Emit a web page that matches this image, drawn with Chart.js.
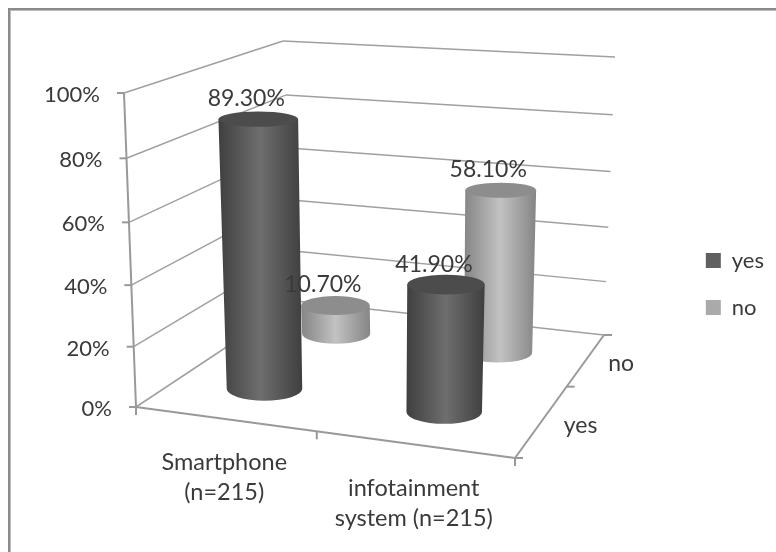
<!DOCTYPE html>
<html>
<head>
<meta charset="utf-8">
<style>html,body{margin:0;padding:0;background:#fff}canvas{display:block}</style>
<script src="https://cdn.jsdelivr.net/npm/chart.js@4"></script>
</head>
<body>
<canvas id="chart" width="776" height="552"></canvas>
<script>
// Share of respondents per device, one cylinder row per answer.
const categories = [['Smartphone', '(n=215)'], ['infotainment', 'system (n=215)']];
const seriesNames = ['yes', 'no'];
const yesValues = [89.3, 41.9];
const noValues = [10.7, 58.1];
const yTicks = [0, 20, 40, 60, 80, 100];

const FONT = 'Lato, sans-serif';
const TEXT = '#3a3a3a';
const LINE = '#a0a0a0';
const AXIS = '#999999';

// Corners of the 3D box: floor and the plane at 100%.
const box = {
  floor: { fl: [136, 407], fr: [515, 458], bl: [296, 301], br: [604, 335] },
  top:   { fl: [124, 93],  fr: [525, 125], bl: [283, 41],  br: [615, 57] }
};
// Perspective pulls the middle of each floor edge away from its arithmetic centre.
const floorMidU = 0.477, floorMidW = 0.58;
const shiftU = -0.015, shiftW = 0.025;

const bilerp = (q, u, w) => [0, 1].map(i =>
  (1 - w) * ((1 - u) * q.fl[i] + u * q.fr[i]) + w * ((1 - u) * q.bl[i] + u * q.br[i]));
// u along categories, w along depth, v up the value axis (all 0..1).
function project(u, w, v) {
  const t = v * (1 + 0.05 * (v - 1));
  const a = bilerp(box.floor, u, w), b = bilerp(box.top, u, w);
  return [a[0] + (b[0] - a[0]) * t, a[1] + (b[1] - a[1]) * t];
}

const skins = {
  yes: { top: '#4c4c4c', edge: '#3f3f3f', mid: '#6e6e6e' },
  no:  { top: '#8d8d8d', edge: '#858585', mid: '#c2c2c2' }
};
const radiusU = 0.105;

function segment(ctx, a, b, color, width) {
  ctx.strokeStyle = color;
  ctx.lineWidth = width;
  ctx.beginPath();
  ctx.moveTo(a[0], a[1]);
  ctx.lineTo(b[0], b[1]);
  ctx.stroke();
}

function cylinder(ctx, u, w, v, skin) {
  const base = project(u, w, 0), head = project(u, w, v);
  const rxOf = vv => (project(u + radiusU, w, vv)[0] - project(u - radiusU, w, vv)[0]) / 2;
  const rb = rxOf(0), rt = rxOf(v);
  const ryBase = 13 - 4 * w;
  const ryBottom = ryBase, ryTop = ryBase * (1 - 0.4 * v);
  const left = Math.min(base[0] - rb, head[0] - rt), right = Math.max(base[0] + rb, head[0] + rt);
  const g = ctx.createLinearGradient(left, 0, right, 0);
  g.addColorStop(0, skin.edge);
  g.addColorStop(0.5, skin.mid);
  g.addColorStop(1, skin.edge);
  ctx.fillStyle = g;
  ctx.beginPath();
  ctx.moveTo(head[0] - rt, head[1]);
  ctx.lineTo(base[0] - rb, base[1]);
  ctx.ellipse(base[0], base[1], rb, ryBottom, 0, Math.PI, 0, true);
  ctx.lineTo(head[0] + rt, head[1]);
  ctx.closePath();
  ctx.fill();
  ctx.fillStyle = skin.top;
  ctx.beginPath();
  ctx.ellipse(head[0], head[1], rt, ryTop, 0, 0, Math.PI * 2);
  ctx.fill();
}

const box3d = {
  id: 'box3d',
  beforeDatasetsDraw(chart) {
    const { ctx, scales: { x, y, depth } } = chart;
    const uOf = i => (x.getPixelForValue(i) - x.left) / x.width;
    const wOf = i => (depth.getPixelForValue(i) - depth.top) / depth.height;
    const vOf = val => (y.bottom - y.getPixelForValue(val)) / y.height;

    ctx.save();
    // Page frame: top and left edges only.
    ctx.fillStyle = '#8a8a8a';
    ctx.fillRect(8, 8, 768, 2);
    ctx.fillRect(8, 8, 2, 544);
    ctx.fillStyle = '#bdbdbd';
    ctx.fillRect(10, 10, 766, 1);
    ctx.fillRect(10, 10, 1, 542);

    // Walls
    ctx.lineCap = 'butt';
    yTicks.forEach(t => {
      const v = vOf(t);
      segment(ctx, project(0, 0, v), project(0, 1, v), LINE, 1.5);
      segment(ctx, project(0, 1, v), project(1, 1, v), LINE, 1.5);
    });

    // Axes and their tick marks
    segment(ctx, project(0, 0, 0), project(0, 0, 1), AXIS, 2);
    segment(ctx, project(0, 0, 0), project(1, 0, 0), AXIS, 2);
    segment(ctx, project(1, 0, 0), project(1, 1, 0), AXIS, 2);
    yTicks.forEach(t => {
      const p = project(0, 0, vOf(t));
      segment(ctx, [p[0] - 7, p[1]], [p[0], p[1]], AXIS, 2);
    });
    [0, floorMidU, 1].forEach(u => {
      const p = project(u, 0, 0);
      segment(ctx, p, [p[0], p[1] + 8], AXIS, 2);
    });
    [0, floorMidW, 1].forEach(w => {
      const p = project(1, w, 0);
      segment(ctx, p, [p[0] + 8, p[1]], AXIS, 2);
    });

    // Cylinders, far row first so the near row overlaps it.
    const drawOrder = [...chart.data.datasets.keys()].reverse();
    drawOrder.forEach(d => {
      const ds = chart.data.datasets[d];
      ds.data.forEach((val, i) =>
        cylinder(ctx, uOf(i) + shiftU, wOf(d) + shiftW, vOf(val), skins[ds.label]));
    });

    // Text
    ctx.fillStyle = TEXT;
    ctx.textBaseline = 'middle';

    ctx.font = '22px ' + FONT;
    ctx.textAlign = 'right';
    yTicks.forEach(t => {
      const p = project(0, 0, vOf(t));
      ctx.fillText(t + '%', p[0] - 24, p[1] + 2);
    });

    ctx.font = '23.5px ' + FONT;
    ctx.textAlign = 'center';
    categories.forEach((lines, i) => {
      const p = project(uOf(i), 0, 0);
      lines.forEach((line, k) => ctx.fillText(line, p[0] - 6.5, p[1] + 43 + k * 30));
    });

    ctx.font = '23px ' + FONT;
    ctx.textAlign = 'left';
    seriesNames.forEach((name, d) => {
      const p = project(1, wOf(d), 0);
      ctx.fillText(name, p[0] + 26.5, p[1] - 2);
    });

    ctx.textAlign = 'center';
    chart.data.datasets.forEach((ds, d) => {
      ds.data.forEach((val, i) => {
        const p = project(uOf(i) + shiftU, wOf(d) + shiftW, vOf(val));
        ctx.fillText(val.toFixed(2) + '%', p[0] - (d === 0 ? 12 : 12.5), p[1] - 20.5);
      });
    });
    ctx.restore();
    return false;
  }
};

new Chart(document.getElementById('chart'), {
  type: 'bar',
  data: {
    labels: categories,
    datasets: [
      { label: seriesNames[0], data: yesValues, backgroundColor: '#606060', borderWidth: 0 },
      { label: seriesNames[1], data: noValues, backgroundColor: '#aaaaaa', borderWidth: 0 }
    ]
  },
  options: {
    responsive: false,
    animation: false,
    layout: { padding: { top: 16, right: 2, bottom: 0, left: 0 } },
    scales: {
      x: { display: false },
      y: { display: false, min: 0, max: 100 },
      depth: { type: 'category', axis: 'y', labels: seriesNames, offset: true, display: false }
    },
    plugins: {
      tooltip: { enabled: false },
      legend: {
        position: 'right',
        labels: {
          boxWidth: 15,
          boxHeight: 15,
          padding: 25,
          color: TEXT,
          font: { family: FONT, size: 22 }
        }
      }
    }
  },
  plugins: [box3d]
});
</script>
</body>
</html>
